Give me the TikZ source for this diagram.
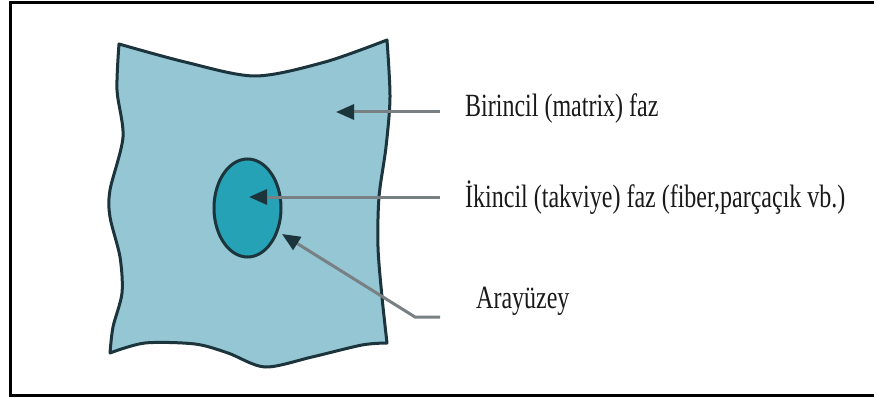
\documentclass[tikz,border=0pt]{standalone}
\usepackage{fontspec}
\setmainfont{Liberation Serif}
\usetikzlibrary{arrows.meta,shapes.geometric}
\definecolor{matris}{RGB}{148,198,212}
\definecolor{takviyec}{RGB}{38,162,182}
\definecolor{kenar}{RGB}{28,52,60}
\definecolor{okgri}{RGB}{120,128,132}
\definecolor{yazi}{RGB}{25,25,25}
\newcommand{\uzun}[1]{\scalebox{1}[1.35]{#1}}
\tikzset{
	ok/.style={line width=3pt,color=okgri,-{Triangle[length=18pt,width=15pt,color=kenar]}},
	etiket/.style={anchor=base west,inner sep=0pt,text=yazi,font=\fontsize{24}{28}\selectfont}
}
\begin{document}
\begin{tikzpicture}[x=1pt,y=-1pt]
		\useasboundingbox (0,0) rectangle (874,398);
		\draw[line width=3pt] (10,3) rectangle (890,395);
		\filldraw[fill=matris,draw=kenar,line width=3pt,line join=round] plot[smooth] coordinates {(119,44) (185,62) (255,76) (325,62) (387,40)}
			-- plot[smooth] coordinates {(387,40) (390,97) (386,147) (379,197) (378,247) (382,297) (387,343)}
			-- plot[smooth] coordinates {(387,343) (362,345) (312,357) (265,367) (228,353) (195,344) (145,343) (110,353)}
			-- plot[smooth] coordinates {(110,353) (113,327) (122,293) (120,257) (110,217) (110,190) (123,137) (117,90) (119,44)} -- cycle;
		\node[ellipse,draw=kenar,fill=takviyec,line width=3pt,minimum width=67pt,minimum height=98pt,inner sep=0pt] (takviye) at (247.5,208) {};

		\node[etiket] (birincil) at (465,117) {\uzun{Birincil (matrix) faz}};
		\node[etiket] (ikincil) at (465,207) {\uzun{İkincil (takviye) faz (fiber,parçaçık vb.)}};
		\node[etiket] (arayuzey) at (476,308) {\uzun{Arayüzey}};

		\coordinate (b1) at (440,112);
		\coordinate (b2) at (336,112);
		\coordinate (i1) at (440,197);
		\coordinate (i2) at (249,197);
		\coordinate (a1) at (440,317);
		\coordinate (a2) at (415,317);
		\coordinate (a3) at (282,234);
		\draw[ok] (b1) -- (b2);
		\draw[ok] (i1) -- (i2);
		\draw[ok] (a1) -- (a2) -- (a3);
	\end{tikzpicture}
\end{document}
